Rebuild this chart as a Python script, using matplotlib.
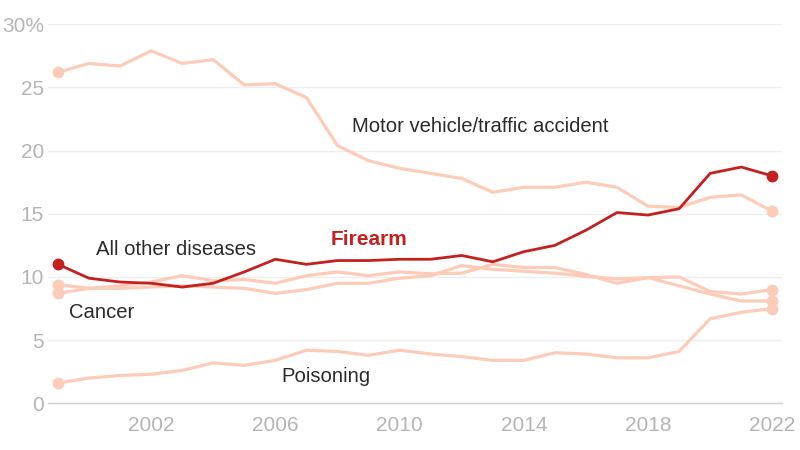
import matplotlib
matplotlib.use("Agg")
import matplotlib.pyplot as plt

years = list(range(1999, 2023))

firearm = [11.0, 9.9, 9.6, 9.5, 9.2, 9.5, 10.4, 11.4, 11.0, 11.3, 11.3, 11.4,
           11.4, 11.7, 11.2, 12.0, 12.5, 13.7, 15.1, 14.9, 15.4, 18.2, 18.7, 18.0]
motor_vehicle = [26.2, 26.9, 26.7, 27.9, 26.9, 27.2, 25.2, 25.3, 24.2, 20.4, 19.2, 18.6,
                 18.2, 17.8, 16.7, 17.1, 17.1, 17.5, 17.1, 15.6, 15.5, 16.3, 16.5, 15.2]
other_diseases = [9.4, 9.1, 9.1, 9.2, 9.3, 9.2, 9.1, 8.7, 9.0, 9.5, 9.5, 9.9,
                  10.1, 10.9, 10.6, 10.45, 10.3, 10.05, 9.85, 9.95, 9.3, 8.65, 8.1, 8.1]
cancer = [8.7, 9.1, 9.3, 9.6, 10.1, 9.7, 9.8, 9.5, 10.1, 10.4, 10.1, 10.4,
          10.25, 10.3, 11.0, 10.75, 10.75, 10.2, 9.5, 9.95, 10.0, 8.85, 8.65, 9.0]
poisoning = [1.6, 2.0, 2.2, 2.3, 2.6, 3.2, 3.0, 3.4, 4.2, 4.1, 3.8, 4.2,
             3.9, 3.7, 3.4, 3.4, 4.0, 3.9, 3.6, 3.6, 4.1, 6.7, 7.2, 7.5]

x_ticks = [2002, 2006, 2010, 2014, 2018, 2022]
y_ticks = [0, 5, 10, 15, 20, 25, 30]
y_tick_labels = ["0", "5", "10", "15", "20", "25", "30%"]

labels = [
    ("Motor vehicle/traffic accident", 2008.47, 21.9, "normal"),
    ("All other diseases", 2000.22, 12.17, "normal"),
    ("Firearm", 2007.79, 12.96, "bold"),
    ("Cancer", 1999.35, 7.17, "normal"),
    ("Poisoning", 2006.18, 2.09, "normal"),
]

LIGHT = "#fdccb8"
RED = "#c4201f"

plt.rcParams["font.family"] = ["Liberation Sans", "DejaVu Sans"]

fig = plt.figure(figsize=(8, 4.5), dpi=100)
ax = fig.add_axes([0.06, 0.1038, 0.917, 0.8422])

for series in [motor_vehicle, other_diseases, cancer, poisoning]:
    ax.plot(years, series, color=LIGHT, lw=2.3, solid_joinstyle="round", zorder=2)
    ax.plot([years[0], years[-1]], [series[0], series[-1]], "o", color=LIGHT,
            ms=7.5, zorder=3)
ax.plot(years, firearm, color=RED, lw=2.0, zorder=4)
ax.plot([years[0], years[-1]], [firearm[0], firearm[-1]], "o", color=RED, ms=7.5, zorder=5)

for text, x, y, weight in labels:
    bold = weight == "bold"
    ax.text(x, y, text, ha="left", va="center", fontsize=15 if bold else 14.6,
            color=RED if bold else "#2b2b2b", fontweight=weight)

ax.set_xlim(1998.68, 2022.3)
ax.set_ylim(0, 30)
ax.set_xticks(x_ticks)
ax.set_yticks(y_ticks)
ax.set_yticklabels(y_tick_labels)
ax.tick_params(axis="both", length=0, labelsize=15, colors="#b5b5b5")
ax.tick_params(axis="y", pad=3)
ax.tick_params(axis="x", pad=9)
for lab in ax.get_yticklabels() + ax.get_xticklabels():
    lab.set_color("#b5b5b5")

ax.grid(axis="y", color="#eeeeee", lw=1, zorder=0)
ax.grid(axis="x", visible=False)
for s in ["top", "right", "left"]:
    ax.spines[s].set_visible(False)
ax.spines["bottom"].set_color("#d0d0d0")
ax.spines["bottom"].set_linewidth(1)
ax.set_axisbelow(True)

fig.savefig("out.png", dpi=100)
